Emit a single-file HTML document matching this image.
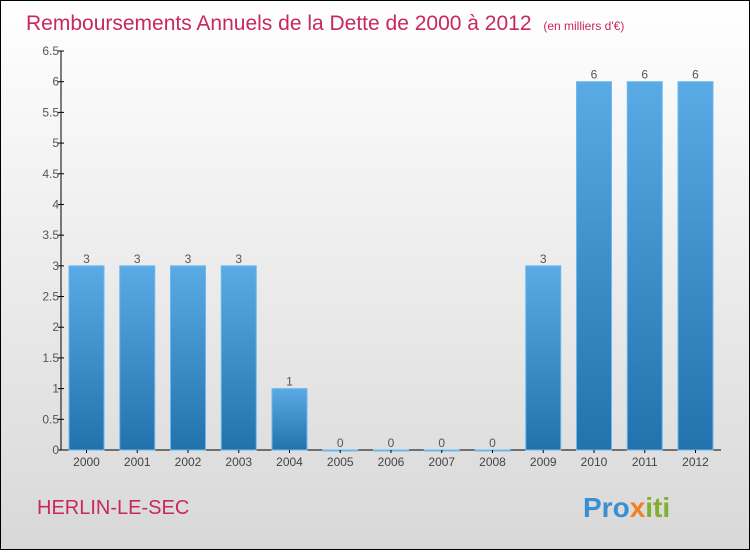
<!DOCTYPE html>
<html><head><meta charset="utf-8"><style>
html,body{margin:0;padding:0;}
body{width:750px;height:550px;overflow:hidden;font-family:"Liberation Sans",sans-serif;}
#wrap{position:relative;width:748px;height:548px;border:1px solid #000;background:linear-gradient(#fff,#d8d8d8);}
</style></head><body>
<div id="wrap">
<svg id="chart" width="748" height="548">
<defs><linearGradient id="bg" x1="0" y1="0" x2="0" y2="1"><stop offset="0" stop-color="#5aaae6"/><stop offset="1" stop-color="#2172ad"/></linearGradient></defs>
<text x="25" y="29" font-size="21" fill="#c8285a">Remboursements Annuels de la Dette de 2000 à 2012 <tspan font-size="12" dx="6">(en milliers d'€)</tspan></text>
<text x="36" y="513" font-size="20" fill="#c8285a">HERLIN-LE-SEC</text>
<text x="582" y="516" font-size="28" font-weight="bold" fill="#3a8fd0">Pro<tspan fill="#f08020">x</tspan><tspan fill="#80b030">iti</tspan></text>
<g id="g"></g>
</svg>
</div>
<script>
const categories=["2000","2001","2002","2003","2004","2005","2006","2007","2008","2009","2010","2011","2012"];
const values=[3,3,3,3,1,0,0,0,0,3,6,6,6];
const yTicks=[0,0.5,1,1.5,2,2.5,3,3.5,4,4.5,5,5.5,6,6.5];
const yTickLabels=["0","0.5","1","1.5","2","2.5","3","3.5","4","4.5","5","5.5","6","6.5"];
const NS="http://www.w3.org/2000/svg";
const g=document.getElementById('g');
const x0=60,y0=449,yTop=50,yMax=6.5,step=50.75,bw=35;
const yS=v=>y0-(v/yMax)*(y0-yTop);
const xS=i=>x0+8+i*step;
function mk(t,a){const e=document.createElementNS(NS,t);for(const k in a)e.setAttribute(k,a[k]);g.appendChild(e);return e;}
let ax=mk('line',{x1:x0,y1:yTop,x2:x0,y2:y0,stroke:'#000'});


let xa=mk('line',{x1:x0,y1:y0,x2:720,y2:y0,stroke:'#000'});


yTicks.forEach((v,i)=>{
 const tk=mk('line',{x1:x0-3,x2:x0+3,y1:yS(v),y2:yS(v),stroke:'#000'});
 
 
 const t=mk('text',{x:x0-2,y:yS(v)+4,'font-size':12,fill:'#555','text-anchor':'end'});
 t.textContent=yTickLabels[i];
 
 
});
categories.forEach((c,i)=>{
 const v=values[i],x=xS(i),y=yS(v);
 const r=mk('rect',{x:x,y:y,width:bw,height:Math.max(y0-y,1),fill:'url(#bg)',stroke:'#6cb8ee','stroke-width':1});
 
 
 const l=mk('text',{x:x+bw/2,y:y-3,'font-size':12,fill:'#555','text-anchor':'middle'});
 l.textContent=String(v);
 
 
 const xt=mk('line',{x1:x+bw/2,x2:x+bw/2,y1:y0,y2:y0+3,stroke:'#000'});
 
 
 const xl=mk('text',{x:x+bw/2,y:y0+16,'font-size':12,fill:'#444','text-anchor':'middle'});
 xl.textContent=c;
 
 
});
</script>
</body></html>
